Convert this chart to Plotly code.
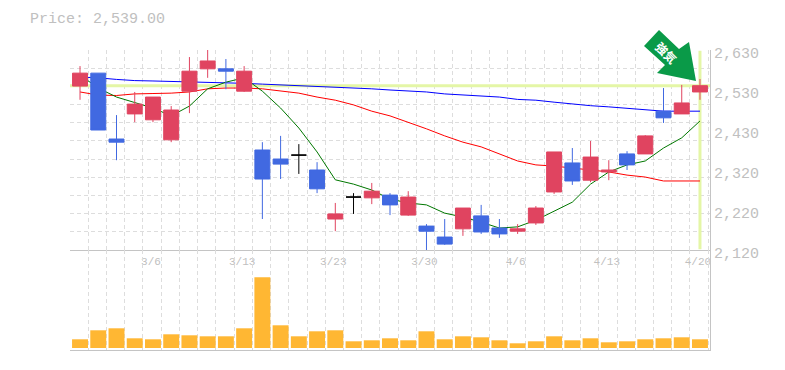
import plotly.graph_objects as go

days = list(range(35))
opens = [2538,2571,2403,2467,2452,2401,2525,2582,2582,2525,2375,2352,2362,2324,2199,2255,2253,2260,2209,2181,2153,2174,2207,2176,2168,2189,2268,2342,2298,2319,2365,2365,2474,2467,2523]
closes = [2571,2426,2395,2492,2510,2477,2576,2602,2576,2576,2301,2339,2362,2276,2212,2255,2270,2235,2255,2168,2135,2227,2166,2161,2174,2227,2370,2296,2357,2324,2337,2411,2457,2495,2539]
highs = [2589,2571,2464,2523,2510,2487,2612,2630,2607,2589,2395,2411,2390,2344,2240,2265,2291,2265,2270,2186,2199,2227,2235,2199,2186,2232,2370,2380,2398,2349,2372,2413,2533,2541,2556]
lows = [2503,2426,2349,2446,2446,2395,2469,2559,2530,2523,2199,2301,2314,2265,2168,2212,2237,2209,2207,2117,2133,2156,2161,2151,2161,2184,2263,2286,2293,2298,2324,2365,2444,2467,2503]
ma_short = [2566,2533,2510,2495,2482,2462,2487,2531,2548,2559,2525,2482,2431,2370,2299,2288,2273,2250,2240,2235,2214,2204,2191,2176,2179,2196,2219,2242,2288,2319,2337,2347,2380,2406,2449]
ma_mid = [2523,2515,2514,2518,2519,2520,2523,2531,2533,2533,2531,2525,2520,2510,2502,2490,2474,2462,2446,2429,2411,2395,2383,2365,2347,2337,2334,2329,2324,2319,2311,2306,2296,2296,2296]
ma_long = [2561,2559,2555,2552,2551,2550,2548,2547,2546,2545,2543,2541,2540,2538,2536,2533,2531,2528,2525,2523,2518,2515,2513,2510,2504,2502,2497,2492,2488,2485,2481,2477,2474,2474,2474]
volumes = [87,177,197,97,87,137,127,117,117,197,707,227,117,167,177,67,77,97,77,167,87,117,107,77,47,67,117,77,97,57,67,87,97,107,87]
last_price = 2539
date_ticks = [4,9,14,19,24,29,34]
date_labels = ["3/6","3/13","3/23","3/30","4/6","4/13","4/20"]
price_ticks = [2630,2528,2426,2324,2222,2120]
price_labels = ["2,630","2,530","2,430","2,320","2,220","2,120"]
badge_text = "強気"

RED, BLUE, GRID, AXIS, TXT = "#e04460", "#4169e1", "#dddddd", "#c4c4c4", "#c0c0c0"
MONO = "Liberation Mono"
XR = [-0.55, 34.55]
YR = [2120, 2630]
GUIDE = "#e4f6a6"

fig = go.Figure()
fig.add_trace(go.Scatter(x=XR, y=[last_price, last_price], mode="lines", line=dict(color=GUIDE, width=3), xaxis="x", yaxis="y"))
fig.add_trace(go.Scatter(x=[days[-1], days[-1]], y=[2122, 2628], mode="lines", line=dict(color=GUIDE, width=3), xaxis="x", yaxis="y"))
for vals, col in ((ma_long, "#0000ff"), (ma_mid, "#ff0000"), (ma_short, "#007700")):
    fig.add_trace(go.Scatter(x=days, y=vals, mode="lines", line=dict(color=col, width=1), xaxis="x", yaxis="y"))

body = [i for i in days if opens[i] != closes[i]]
doji = [i for i in days if opens[i] == closes[i]]
pick = lambda a, idx: [a[i] for i in idx]
fig.add_trace(go.Candlestick(
    x=body, open=pick(opens, body), high=pick(highs, body), low=pick(lows, body), close=pick(closes, body),
    increasing=dict(line=dict(color=RED, width=1), fillcolor=RED),
    decreasing=dict(line=dict(color=BLUE, width=1), fillcolor=BLUE),
    xaxis="x3", yaxis="y3"))
fig.add_trace(go.Candlestick(
    x=doji, open=pick(opens, doji), high=pick(highs, doji), low=pick(lows, doji), close=pick(closes, doji),
    increasing=dict(line=dict(color="#000000", width=1), fillcolor="#000000"),
    decreasing=dict(line=dict(color="#000000", width=1), fillcolor="#000000"),
    xaxis="x3", yaxis="y3"))
fig.add_trace(go.Bar(x=days, y=volumes, width=0.875, marker=dict(color="#ffb733", line=dict(width=0)), xaxis="x2", yaxis="y2"))

grid = dict(showgrid=True, gridcolor=GRID, griddash="4px,3px", gridwidth=1, zeroline=False)
fig.update_layout(
    width=777, height=362, margin=dict(l=62, r=75, t=42, b=20, autoexpand=False),
    paper_bgcolor="white", plot_bgcolor="white", showlegend=False, boxgap=0.18, boxgroupgap=0, bargap=0.12,
    font=dict(family=MONO, color=TXT),
    xaxis=dict(domain=[0, 1], range=XR, tick0=-0.55, dtick=1, showticklabels=False, anchor="y",
               showline=True, linecolor=AXIS, linewidth=1, **grid),
    yaxis=dict(domain=[1/3, 1], range=YR, tick0=2120, dtick=510/11, showticklabels=False, anchor="x", **grid),
    xaxis2=dict(domain=[0, 1], range=XR, tick0=-0.55, dtick=1, showticklabels=False, anchor="y2",
                showline=True, linecolor=AXIS, linewidth=1, **grid),
    yaxis2=dict(domain=[0, 1/3], range=[-20, 980], showgrid=False, zeroline=False, showticklabels=False, anchor="x2",
                side="right", showline=True, linecolor=AXIS, linewidth=1),
    xaxis3=dict(range=XR, overlaying="x", anchor="y", side="bottom", showgrid=False, zeroline=False,
                tickmode="array", tickvals=date_ticks, ticktext=date_labels, ticks="",
                ticklabelstandoff=3, ticklabelshift=-2,
                tickfont=dict(family=MONO, size=11, color=TXT), rangeslider=dict(visible=False)),
    yaxis3=dict(range=YR, overlaying="y", anchor="x", side="right", showgrid=False, zeroline=False,
                tickmode="array", tickvals=price_ticks, ticktext=price_labels, ticks="", ticklabelshift=3,
                tickfont=dict(family=MONO, size=15, color=TXT), showline=True, linecolor=AXIS, linewidth=1),
    shapes=[dict(type="path", xref="paper", yref="paper", layer="above",
                 path="M {} {} L {} {} L {} {} L {} {} L {} {} L {} {} L {} {} Z".format(
                     *sum([[(px-70)/640, (350-py)/300] for px, py in
                           [(644,46),(659,30),(679,49),(689,42),(696,81),(657,73),(665,65)]], [])),
                 fillcolor="#0a9a48", line=dict(width=0))],
    annotations=[
        dict(text="Price: 2,539.00", xref="paper", yref="paper", x=(27.5-70)/640, y=(350-19)/300,
             xanchor="left", yanchor="middle", showarrow=False, font=dict(family=MONO, size=15, color=TXT)),
        dict(text=badge_text, xref="paper", yref="paper", x=(667-70)/640, y=(350-52)/300, textangle=45,
             xanchor="center", yanchor="middle", showarrow=False,
             font=dict(family="Noto Sans CJK JP", size=12, color="white", weight="bold")),
    ],
)
fig.write_html("out.html")
